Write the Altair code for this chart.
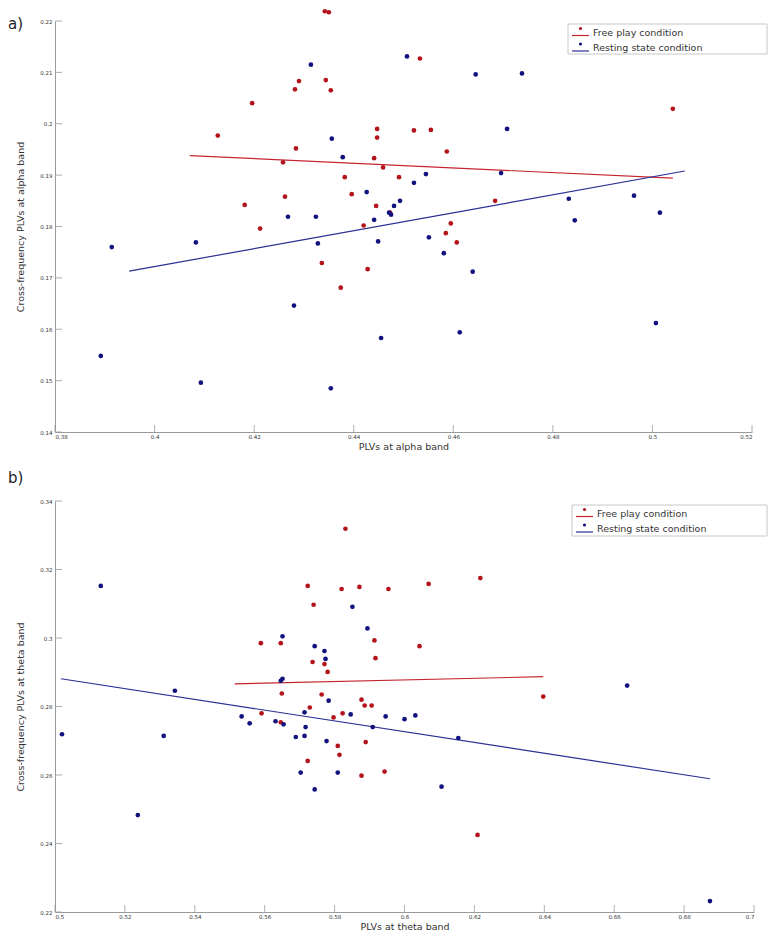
import altair as alt
import pandas as pd

FONT = "DejaVu Sans"
RED = "#b3141c"
BLUE = "#12127e"
RED_LINE = "#c4262e"
BLUE_LINE = "#2b2f93"
AXIS_GREY = "#9a9a9a"
TXT = "#333333"

legend_labels = ["Free play condition", "Resting state condition"]

# ---------------- panel a (alpha band) ----------------
a_x_ticks = [0.38, 0.4, 0.42, 0.44, 0.46, 0.48, 0.5, 0.52]
a_y_ticks = [0.14, 0.15, 0.16, 0.17, 0.18, 0.19, 0.2, 0.21, 0.22]

a_red_x = [0.4127, 0.4196, 0.4212, 0.4181, 0.4262, 0.4258, 0.4284, 0.4282, 0.4290, 0.4342,
           0.4350, 0.4344, 0.4354, 0.4336, 0.4374, 0.4382, 0.4396, 0.4420, 0.4428, 0.4441,
           0.4447, 0.4447, 0.4445, 0.4459, 0.4473, 0.4491, 0.4521, 0.4533, 0.4555, 0.4587,
           0.4585, 0.4595, 0.4607, 0.4684, 0.5041]
a_red_y = [0.1977, 0.2040, 0.1796, 0.1842, 0.1858, 0.1925, 0.1952, 0.2067, 0.2083, 0.2219,
           0.2217, 0.2085, 0.2065, 0.1729, 0.1681, 0.1896, 0.1863, 0.1802, 0.1717, 0.1933,
           0.1990, 0.1973, 0.1840, 0.1915, 0.1827, 0.1896, 0.1987, 0.2127, 0.1988, 0.1946,
           0.1787, 0.1806, 0.1769, 0.1850, 0.2029]
a_blue_x = [0.3892, 0.3914, 0.4083, 0.4093, 0.4268, 0.4280, 0.4314, 0.4324, 0.4328, 0.4356,
            0.4354, 0.4378, 0.4426, 0.4441, 0.4449, 0.4455, 0.4471, 0.4475, 0.4481, 0.4493,
            0.4507, 0.4521, 0.4545, 0.4551, 0.4581, 0.4613, 0.4639, 0.4645, 0.4696, 0.4708,
            0.4738, 0.4832, 0.4844, 0.4963, 0.5015, 0.5007]
a_blue_y = [0.1548, 0.1760, 0.1769, 0.1496, 0.1819, 0.1646, 0.2115, 0.1819, 0.1767, 0.1971,
            0.1485, 0.1935, 0.1867, 0.1813, 0.1771, 0.1583, 0.1827, 0.1823, 0.1840, 0.1850,
            0.2131, 0.1885, 0.1902, 0.1779, 0.1748, 0.1594, 0.1712, 0.2096, 0.1904, 0.1990,
            0.2098, 0.1854, 0.1812, 0.1860, 0.1827, 0.1612]
a_red_line_x = [0.4071, 0.5041]
a_red_line_y = [0.1938, 0.1894]
a_blue_line_x = [0.3949, 0.5065]
a_blue_line_y = [0.1713, 0.1908]

# ---------------- panel b (theta band) ----------------
b_x_ticks = [0.5, 0.52, 0.54, 0.56, 0.58, 0.6, 0.62, 0.64, 0.66, 0.68, 0.7]
b_y_ticks = [0.22, 0.24, 0.26, 0.28, 0.3, 0.32, 0.34]

b_red_x = [0.5591, 0.5589, 0.5646, 0.5649, 0.5646, 0.5723, 0.5729, 0.5740, 0.5737, 0.5723,
           0.5763, 0.5771, 0.5780, 0.5797, 0.5809, 0.5814, 0.5820, 0.5823, 0.5831, 0.5871,
           0.5877, 0.5877, 0.5886, 0.5889, 0.5906, 0.5914, 0.5917, 0.5943, 0.5954, 0.6043,
           0.6069, 0.6217, 0.6209, 0.6397]
b_red_y = [0.2780, 0.2985, 0.2985, 0.2838, 0.2754, 0.3152, 0.2797, 0.3097, 0.2930, 0.2641,
           0.2835, 0.2924, 0.2901, 0.2768, 0.2685, 0.2659, 0.3143, 0.2780, 0.3319, 0.3149,
           0.2820, 0.2598, 0.2803, 0.2696, 0.2803, 0.2993, 0.2941, 0.2610, 0.3143, 0.2976,
           0.3158, 0.3175, 0.2425, 0.2829]
b_blue_x = [0.5020, 0.5131, 0.5237, 0.5311, 0.5343, 0.5534, 0.5557, 0.5646, 0.5651, 0.5651,
            0.5654, 0.5631, 0.5689, 0.5703, 0.5714, 0.5714, 0.5717, 0.5743, 0.5743, 0.5771,
            0.5774, 0.5777, 0.5783, 0.5809, 0.5846, 0.5851, 0.5894, 0.5909, 0.5946, 0.6000,
            0.6031, 0.6106, 0.6154, 0.6637, 0.6874]
b_blue_y = [0.2719, 0.3152, 0.2483, 0.2714, 0.2846, 0.2771, 0.2751, 0.2875, 0.2881, 0.3005,
            0.2748, 0.2757, 0.2711, 0.2607, 0.2783, 0.2714, 0.2740, 0.2976, 0.2558, 0.2962,
            0.2939, 0.2699, 0.2817, 0.2607, 0.2777, 0.3091, 0.3028, 0.2740, 0.2771, 0.2763,
            0.2774, 0.2566, 0.2708, 0.2861, 0.2232]
b_red_line_x = [0.5514, 0.6397]
b_red_line_y = [0.2866, 0.2887]
b_blue_line_x = [0.5017, 0.6874]
b_blue_line_y = [0.2881, 0.2589]


def panel(tag, W, H, xt, yt, xtitle, ytitle, rx, ry, bx, by,
          rlx, rly, blx, bly, leg, tag_y):
    xdom = [xt[0], xt[-1]]
    ydom = [yt[0], yt[-1]]
    xs = alt.Scale(domain=xdom, nice=False, zero=False)
    ys = alt.Scale(domain=ydom, nice=False, zero=False)
    lab = "'' + datum.value"
    xax = alt.Axis(values=xt, title=xtitle, labelExpr=lab, ticks=False, grid=False,
                   labelFontSize=5.5, labelPadding=2, labelColor=TXT, labelFont=FONT,
                   domainColor=AXIS_GREY, titleFont=FONT, titleFontSize=9.5,
                   titleFontWeight="normal", titleColor=TXT, titlePadding=2)
    yax = alt.Axis(values=yt, title=ytitle, labelExpr=lab, ticks=False, grid=False,
                   labelFontSize=5.5, labelPadding=3, labelColor=TXT, labelFont=FONT,
                   domainColor=AXIS_GREY, titleFont=FONT, titleFontSize=9.5,
                   titleFontWeight="normal", titleColor=TXT, titlePadding=14)

    pts = pd.concat([
        pd.DataFrame({"x": rx, "y": ry, "cond": legend_labels[0]}),
        pd.DataFrame({"x": bx, "y": by, "cond": legend_labels[1]}),
    ])
    lines = pd.concat([
        pd.DataFrame({"x": rlx, "y": rly, "cond": legend_labels[0]}),
        pd.DataFrame({"x": blx, "y": bly, "cond": legend_labels[1]}),
    ])

    base_pts = alt.Chart(pts).mark_circle(size=22, opacity=1).encode(
        x=alt.X("x:Q", scale=xs, axis=xax),
        y=alt.Y("y:Q", scale=ys, axis=yax),
        color=alt.Color("cond:N", scale=alt.Scale(domain=legend_labels, range=[RED, BLUE]),
                        legend=None),
    )
    reg = alt.Chart(lines).mark_line(strokeWidth=1.2).encode(
        x=alt.X("x:Q", scale=xs, axis=xax),
        y=alt.Y("y:Q", scale=ys, axis=yax),
        detail="cond:N",
        stroke=alt.Stroke("cond:N", scale=alt.Scale(domain=legend_labels,
                                                    range=[RED_LINE, BLUE_LINE]), legend=None),
    )
    xtk = alt.Chart(pd.DataFrame({"t": xt})).mark_rule(color=AXIS_GREY, strokeWidth=0.8).encode(
        x=alt.X("t:Q", scale=xs, axis=xax), y=alt.value(H), y2=alt.value(H - 7))
    ytk = alt.Chart(pd.DataFrame({"t": yt})).mark_rule(color=AXIS_GREY, strokeWidth=0.8).encode(
        y=alt.Y("t:Q", scale=ys, axis=yax), x=alt.value(0), x2=alt.value(7))

    one = pd.DataFrame({"k": [0]})
    lx0, ly0, lx1, ly1 = leg
    layers = [xtk, ytk, reg, base_pts]
    # legend box
    layers.append(alt.Chart(one).mark_rect(fill="white", stroke="#c8c8c8", strokeWidth=1).encode(
        x=alt.value(lx0), x2=alt.value(lx1), y=alt.value(ly0), y2=alt.value(ly1)))
    for i, (lab_txt, pc, lc) in enumerate(zip(legend_labels, [RED, BLUE], [RED_LINE, BLUE_LINE])):
        cy = ly0 + 9 + i * 15.5
        layers.append(alt.Chart(one).mark_rule(color=lc, strokeWidth=1.2).encode(
            x=alt.value(lx0 + 4), x2=alt.value(lx0 + 21), y=alt.value(cy + 2.5)))
        layers.append(alt.Chart(one).mark_circle(size=10, opacity=1, color=pc).encode(
            x=alt.value(lx0 + 12.5), y=alt.value(cy - 4.5)))
        layers.append(alt.Chart(pd.DataFrame({"l": [lab_txt]})).mark_text(
            align="left", baseline="middle", font=FONT, fontSize=9.5, color=TXT).encode(
            x=alt.value(lx0 + 25), y=alt.value(cy - 0.5), text="l:N"))
    layers.append(alt.Chart(pd.DataFrame({"l": [tag]})).mark_text(
        align="left", baseline="top", font=FONT, fontSize=15, color="#222").encode(
        x=alt.value(-47), y=alt.value(tag_y), text="l:N"))
    return alt.layer(*layers).properties(width=W, height=H)


pa = panel("a)", 697, 411, a_x_ticks, a_y_ticks, "PLVs at alpha band",
           "Cross-frequency PLVs at alpha band",
           a_red_x, a_red_y, a_blue_x, a_blue_y,
           a_red_line_x, a_red_line_y, a_blue_line_x, a_blue_line_y,
           (513, 3, 712, 33), -4)
pb = panel("b)", 699, 411, b_x_ticks, b_y_ticks, "PLVs at theta band",
           "Cross-frequency PLVs at theta band",
           b_red_x, b_red_y, b_blue_x, b_blue_y,
           b_red_line_x, b_red_line_y, b_blue_line_x, b_blue_line_y,
           (517, 4, 712, 35), -30)

chart = alt.vconcat(pa, pb, spacing=20).resolve_scale(
    x="independent", y="independent", color="independent", stroke="independent"
).properties(padding=0).configure(background="white").configure_view(stroke=None)

chart.save("out.html", embed_options={"renderer": "svg", "actions": False})
